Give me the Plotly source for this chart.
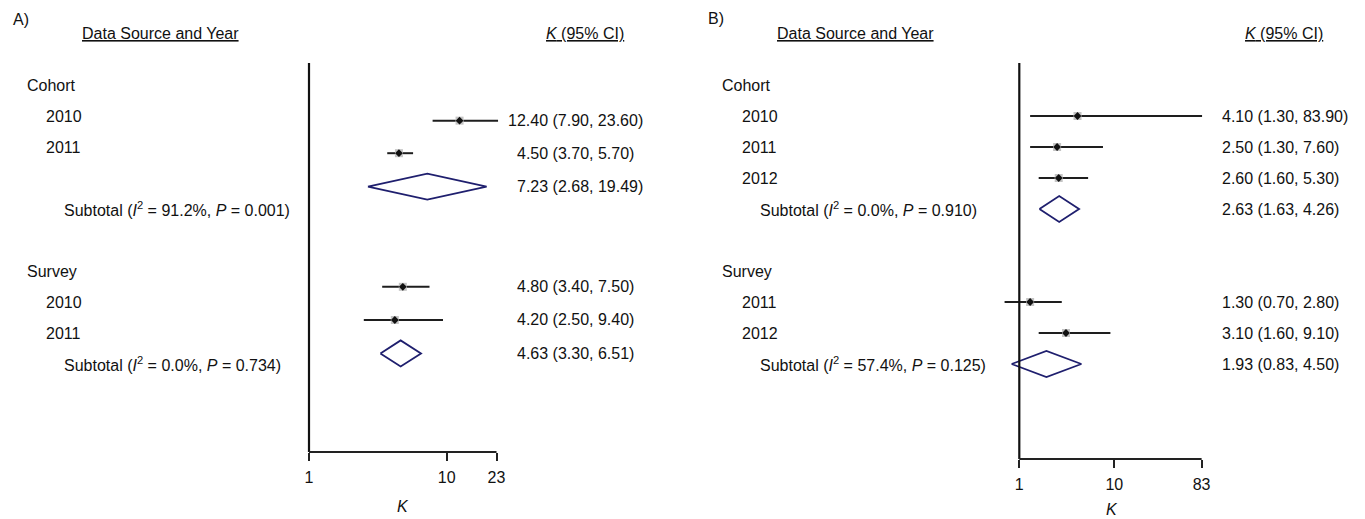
import plotly.graph_objects as go

# ---------------- data ----------------
# Panel A
A_cohort_years = ["2010", "2011"]
A_cohort_est = [12.40, 4.50]
A_cohort_lo = [7.90, 3.70]
A_cohort_hi = [23.60, 5.70]
A_cohort_sub = [7.23, 2.68, 19.49]
A_cohort_stats = ["91.2%", "0.001"]

A_survey_years = ["2010", "2011"]
A_survey_est = [4.80, 4.20]
A_survey_lo = [3.40, 2.50]
A_survey_hi = [7.50, 9.40]
A_survey_sub = [4.63, 3.30, 6.51]
A_survey_stats = ["0.0%", "0.734"]

A_ticks = [1, 10, 23]

# Panel B
B_cohort_years = ["2010", "2011", "2012"]
B_cohort_est = [4.10, 2.50, 2.60]
B_cohort_lo = [1.30, 1.30, 1.60]
B_cohort_hi = [83.90, 7.60, 5.30]
B_cohort_sub = [2.63, 1.63, 4.26]
B_cohort_stats = ["0.0%", "0.910"]

B_survey_years = ["2011", "2012"]
B_survey_est = [1.30, 3.10]
B_survey_lo = [0.70, 1.60]
B_survey_hi = [2.80, 9.10]
B_survey_sub = [1.93, 0.83, 4.50]
B_survey_stats = ["57.4%", "0.125"]

B_ticks = [1, 10, 83]

# ---------------- layout constants ----------------
PAGE_W, PAGE_H = 1365, 519
OFF = 8                          # page body margin
W, H = PAGE_W - OFF, PAGE_H - OFF
ROW0, DY = 85.0, 31.0           # page-pixel y of row 0 and row spacing
FONT = "Liberation Sans, Arial, Helvetica, sans-serif"
FS = 16
CI_COLOR = "#1e1e1e"
DIA_COLOR = "#1f1f6e"
HALF = 0.42                      # diamond half height (rows)

# row positions of the marks in panel A (its plotted rows sit off the label grid)
A_mark_rows = [1.15, 2.20, 3.28, 6.51, 7.58, 8.66]
# row positions for panel B marks (on the label grid)
B_mark_rows = [1, 2, 3, 4, 7, 8, 9]


def px(x):
    return (x - OFF) / W


def py(y):
    return (H - (y - OFF)) / H


fig = go.Figure()
annotations = []
shapes = []


def ann(text, x, row, anchor="left", yref="y", size=FS):
    annotations.append(dict(
        text=text, x=px(x - (2 if anchor == "left" else 0)), xref="paper",
        y=row, yref=yref, xanchor=anchor, yanchor="middle",
        showarrow=False, font=dict(family=FONT, size=size, color="#111")))


def subtotal_text(stats):
    return "Subtotal (<i>I</i><sup>2</sup> = %s, <i>P</i> = %s)" % (stats[0], stats[1])


def est_text(e, lo, hi):
    return "%.2f (%.2f, %.2f)" % (e, lo, hi)


def add_panel(xa, est, lo, hi, subs, rows, study_idx, sub_idx, text_x):
    srows = [rows[i] for i in study_idx]
    xs, ys = [], []
    for l, h, r in zip(lo, hi, srows):
        xs += [l, h, None]
        ys += [r, r, None]
    fig.add_trace(go.Scatter(x=xs, y=ys, mode="lines", xaxis=xa, yaxis="y",
                             line=dict(color=CI_COLOR, width=2), hoverinfo="skip",
                             showlegend=False))
    fig.add_trace(go.Scatter(x=est, y=srows, mode="markers", xaxis=xa, yaxis="y",
                             marker=dict(symbol="square", size=8, color="#c4c4c4"),
                             hoverinfo="skip", showlegend=False))
    fig.add_trace(go.Scatter(x=est, y=srows, mode="markers", xaxis=xa, yaxis="y",
                             marker=dict(symbol="diamond", size=6, color="#111"),
                             showlegend=False))
    for s, i in zip(subs, sub_idx):
        r = rows[i]
        fig.add_trace(go.Scatter(x=[s[1], s[0], s[2], s[0], s[1]],
                                 y=[r, r - HALF, r, r + HALF, r],
                                 mode="lines", xaxis=xa, yaxis="y",
                                 line=dict(color=DIA_COLOR, width=1.8),
                                 showlegend=False))
    for e, l, h, r in zip(est, lo, hi, srows):
        ann(est_text(e, l, h), text_x - 8.9 * (len("%.2f" % e) - 4), r)
    for s, i in zip(subs, sub_idx):
        ann(est_text(*s), text_x - 8.9 * (len("%.2f" % s[0]) - 4), rows[i])


def axis_title(x, y):
    annotations.append(dict(text="<i>K</i>", x=px(x), xref="paper", y=py(y), yref="paper",
                            showarrow=False, xanchor="center", yanchor="middle", borderpad=0,
                            font=dict(family=FONT, size=FS, color="#111")))


# ---------- Panel A ----------
add_panel("x", A_cohort_est + A_survey_est, A_cohort_lo + A_survey_lo,
          A_cohort_hi + A_survey_hi, [A_cohort_sub, A_survey_sub], A_mark_rows,
          [0, 1, 3, 4], [2, 5], 517)

ann("A)", 13, py(19), yref="paper")
ann("<u>Data Source and Year</u>", 81.7, py(33), yref="paper")
ann("<u><i>K</i> (95% CI)</u>", 546, py(33), yref="paper")
ann("Cohort", 26.7, 0)
for k, yr in enumerate(A_cohort_years):
    ann(yr, 46, 1 + k)
ann(subtotal_text(A_cohort_stats), 64.3, 4)
ann("Survey", 26.7, 6)
for k, yr in enumerate(A_survey_years):
    ann(yr, 46, 7 + k)
ann(subtotal_text(A_survey_stats), 64.3, 9)
axis_title(403, 506)

# ---------- Panel B ----------
add_panel("x2", B_cohort_est + B_survey_est, B_cohort_lo + B_survey_lo,
          B_cohort_hi + B_survey_hi, [B_cohort_sub, B_survey_sub], B_mark_rows,
          [0, 1, 2, 4, 5], [3, 6], 1222)

ann("B)", 708, py(18), yref="paper")
ann("<u>Data Source and Year</u>", 776.7, py(33), yref="paper")
ann("<u><i>K</i> (95% CI)</u>", 1245, py(33), yref="paper")
ann("Cohort", 721.7, 0)
for k, yr in enumerate(B_cohort_years):
    ann(yr, 741.7, 1 + k)
ann(subtotal_text(B_cohort_stats), 760, 4)
ann("Survey", 721.7, 6)
for k, yr in enumerate(B_survey_years):
    ann(yr, 741.7, 7 + k)
ann(subtotal_text(B_survey_stats), 760, 9)
axis_title(1111.7, 509)

# ---------- axes ----------
A_X0, A_DEC = 309.0, 137.7
B_X0, B_DEC = 1019.3, 95.0
A_dom = (290, 520)
B_dom = (990, 1225)
A_base, B_base, TOP = 452, 459, 63

shapes.append(dict(type="line", xref="x", yref="paper", x0=1, x1=1, y0=py(A_base), y1=py(TOP),
                   line=dict(color="#111", width=2.2)))
shapes.append(dict(type="line", xref="x", yref="paper", x0=1, x1=A_ticks[-1], y0=py(A_base), y1=py(A_base),
                   line=dict(color="#222", width=2)))
shapes.append(dict(type="line", xref="x2", yref="paper", x0=1, x1=1, y0=py(B_base), y1=py(TOP),
                   line=dict(color="#111", width=2.2)))
shapes.append(dict(type="line", xref="x2", yref="paper", x0=1, x1=B_ticks[-1], y0=py(B_base), y1=py(B_base),
                   line=dict(color="#222", width=2)))

axis_common = dict(type="log", showgrid=False, zeroline=False, showline=False,
                   ticks="outside", ticklen=8, tickwidth=2, tickcolor="#222",
                   tickfont=dict(family=FONT, size=FS, color="#111"),
                   anchor="free", ticklabelstandoff=3, fixedrange=True)

fig.update_layout(
    width=W, height=H,
    margin=dict(l=0, r=0, t=0, b=0),
    paper_bgcolor="white", plot_bgcolor="white",
    showlegend=False,
    xaxis=dict(domain=[px(A_dom[0]), px(A_dom[1])],
               range=[(A_dom[0] - A_X0) / A_DEC, (A_dom[1] - A_X0) / A_DEC],
               tickvals=A_ticks, ticktext=[str(t) for t in A_ticks],
               position=py(A_base), **axis_common),
    xaxis2=dict(domain=[px(B_dom[0]), px(B_dom[1])],
                range=[(B_dom[0] - B_X0) / B_DEC, (B_dom[1] - B_X0) / B_DEC],
                tickvals=B_ticks, ticktext=[str(t) for t in B_ticks],
                position=py(B_base), **axis_common),
    yaxis=dict(domain=[0, 1], range=[(H - (ROW0 - OFF)) / DY, -(ROW0 - OFF) / DY],
               visible=False, fixedrange=True),
    annotations=annotations,
    shapes=shapes,
)

fig.write_html("out.html")
